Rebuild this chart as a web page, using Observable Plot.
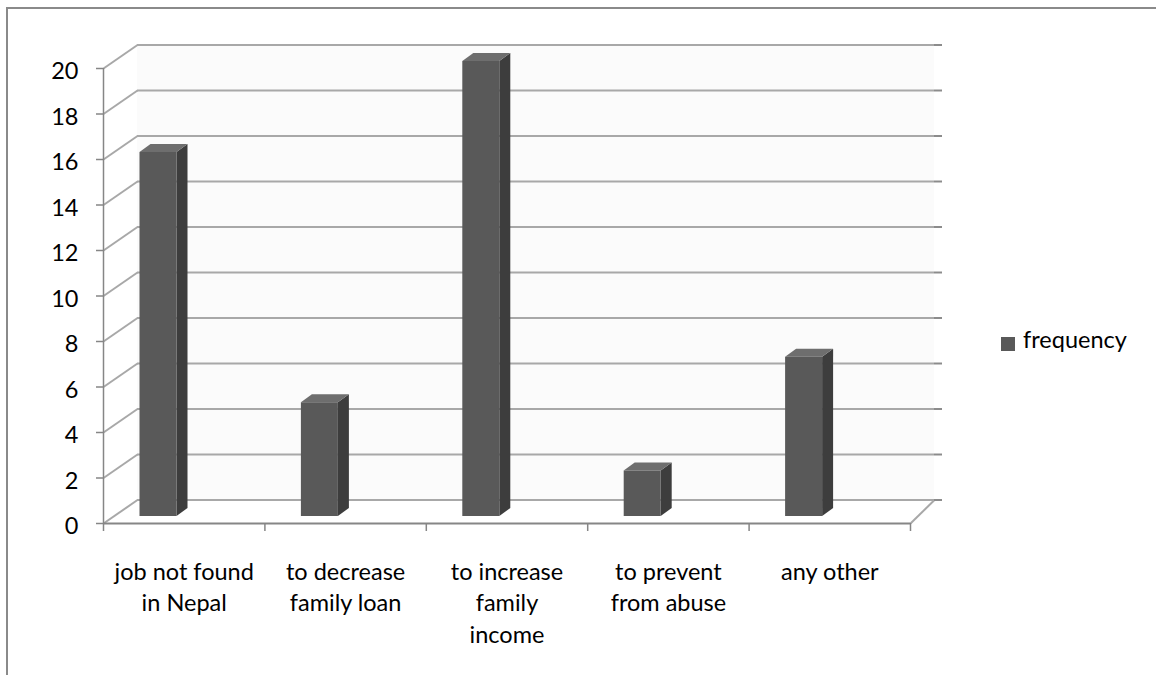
<!DOCTYPE html>
<html><head><meta charset="utf-8">
<script src="https://cdn.jsdelivr.net/npm/d3@7"></script>
<script src="https://cdn.jsdelivr.net/npm/@observablehq/plot@0.6"></script>
<style>
body{margin:0;background:#fff;}
#wrap{position:relative;width:1156px;height:675px;overflow:hidden;font-family:Lato,sans-serif;background:#fff;}
#chart{position:absolute;left:0;top:0;}
#frame{position:absolute;left:6px;top:7px;width:1200px;height:700px;border-top:2px solid #8a8a8a;border-left:2px solid #8a8a8a;}
#legend-sw{position:absolute;left:1001px;top:337px;width:14px;height:14px;background:#595959;}
#legend-tx{position:absolute;left:1023px;top:325px;font-size:23.5px;line-height:1.2;color:#000;}
</style></head><body>
<div id="wrap"><div id="chart"></div><div id="frame"></div><div id="legend-sw"></div><div id="legend-tx"></div></div>
<script>
const categories = ["job not found in Nepal", "to decrease family loan", "to increase family income", "to prevent from abuse", "any other"];
const tickLabels = ["job not found\nin Nepal", "to decrease\nfamily loan", "to increase\nfamily\nincome", "to prevent\nfrom abuse", "any other"];
const frequency = [16, 5, 20, 2, 7];
const yTicks = [0, 2, 4, 6, 8, 10, 12, 14, 16, 18, 20];
const seriesName = "frequency";

const W = 1156, H = 675, mL = 103, mR = 246, mT = 68, mB = 152;
const n = categories.length;
const pxX = (W - mL - mR) / n;
const pxY = (H - mT - mB) / 20;
// 3D geometry (pixels converted to data units)
const backL = 34 / pxX, backR = n + 24 / pxX, depthY = 23.5 / pxY;
const stub = 8 / pxX;
const barL = 36.5 / pxX, barR = 73.5 / pxX;
const sideX = 11 / pxX, sideY = 8 / pxY;
const barDy = -7;

const rows = categories.map((c, i) => ({cat: c, i, v: frequency[i], label: tickLabels[i]}));
const sidePts = rows.flatMap(r => [
  {cat: r.cat, x: r.i + barR, y1: 0, y2: r.v},
  {cat: r.cat, x: r.i + barR + sideX, y1: sideY, y2: r.v + sideY}
]);
const topPts = rows.flatMap(r => [
  {cat: r.cat, y: r.v, x1: r.i + barL, x2: r.i + barR},
  {cat: r.cat, y: r.v + sideY, x1: r.i + barL + sideX, x2: r.i + barR + sideX}
]);
const boundaries = d3.range(n + 1);

const grid = "#a8a8a8", axisC = "#868686";
const chart = Plot.plot({
  width: W, height: H,
  marginLeft: mL, marginRight: mR, marginTop: mT, marginBottom: mB,
  style: {background: "transparent", fontFamily: "Lato, sans-serif", fontSize: "23.5px", color: "#000"},
  x: {type: "linear", domain: [0, n], axis: null},
  y: {type: "linear", domain: [0, 20], axis: null},
  marks: [
    Plot.rect([0], {x1: backL, x2: backR, y1: depthY, y2: 20 + depthY, fill: "#fbfbfb"}),
    Plot.ruleY(yTicks, {y: d => d + depthY, x1: backL, x2: backR, stroke: grid, strokeWidth: 2}),
    Plot.link(yTicks, {x1: 0, y1: d => d, x2: backL, y2: d => d + depthY, stroke: grid, strokeWidth: 2}),
    Plot.link([0], {x1: n, y1: 0, x2: backR, y2: depthY, stroke: grid, strokeWidth: 2}),
    Plot.ruleY(yTicks, {y: d => d + depthY, x1: backR, x2: backR + stub, stroke: "#8c8c8c", strokeWidth: 2}),
    // axes
    Plot.ruleX([0], {stroke: axisC, strokeWidth: 1.5}),
    Plot.ruleY([0], {stroke: axisC, strokeWidth: 2}),
    Plot.ruleY(yTicks, {y: d => d, x1: -7 / pxX, x2: 0, stroke: axisC, strokeWidth: 1.5}),
    Plot.ruleX(boundaries, {x: d => d, y1: 0, y2: -8 / pxY, stroke: axisC, strokeWidth: 1.5}),
    Plot.text(yTicks, {x: 0, y: d => d, text: d => String(d), dx: -25, dy: 3, textAnchor: "end", fill: "#000"}),
    Plot.text(rows, {x: d => d.i + 0.5, y: 0, text: "label", lineAnchor: "top", dy: 33.3, lineHeight: 1.36, textAnchor: "middle", fill: "#000"}),
    // bars
    Plot.areaY(sidePts, {x: "x", y1: "y1", y2: "y2", z: "cat", fill: "#3d3d3d", dy: barDy, curve: "linear"}),
    Plot.areaX(topPts, {y: "y", x1: "x1", x2: "x2", z: "cat", fill: "#6e6e6e", dy: barDy, curve: "linear"}),
    Plot.rect(rows, {x1: d => d.i + barL, x2: d => d.i + barR, y1: 0, y2: "v", fill: "#595959", dy: barDy})
  ]
});
document.getElementById("chart").appendChild(chart);
document.getElementById("legend-tx").textContent = seriesName;
</script>
</body></html>
